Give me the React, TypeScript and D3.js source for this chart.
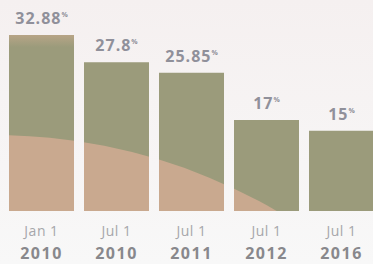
import React, { useRef, useEffect } from 'react';
import * as d3 from 'd3';

const categories = ['a', 'b', 'c', 'd', 'e'];
const dateLabels = ['Jan 1', 'Jul 1', 'Jul 1', 'Jul 1', 'Jul 1'];
const yearLabels = ['2010', '2010', '2011', '2012', '2016'];
const rates = [32.88, 27.8, 25.85, 17, 15];
const valueLabels = ['32.88', '27.8', '25.85', '17', '15'];

const width = 373;
const height = 264;

const App = () => {
  const svgRef = useRef(null);

  useEffect(() => {
    if (!svgRef.current) return;
    const svg = d3.select(svgRef.current);
    svg.selectAll('*').remove();

    const x = d3.scaleBand()
      .domain(categories)
      .range([9, 374])
      .paddingInner(10 / 75)
      .paddingOuter(0);

    const y = d3.scaleLinear()
      .domain([0, 32.88])
      .range([211, 35]);

    const defs = svg.append('defs');

    // background, slightly pink at the top
    const bg = defs.append('linearGradient')
      .attr('id', 'bg')
      .attr('x1', 0).attr('y1', 0).attr('x2', 0).attr('y2', 1);
    bg.append('stop').attr('offset', '0%').attr('stop-color', '#f5f0f0');
    bg.append('stop').attr('offset', '100%').attr('stop-color', '#f8f8f8');

    const topBand = defs.append('linearGradient')
      .attr('id', 'topband')
      .attr('x1', 0).attr('y1', 0).attr('x2', 0).attr('y2', 1);
    topBand.append('stop').attr('offset', '0%').attr('stop-color', '#c4a98c').attr('stop-opacity', 0.7);
    topBand.append('stop').attr('offset', '100%').attr('stop-color', '#c4a98c').attr('stop-opacity', 0);

    svg.append('rect')
      .attr('width', width)
      .attr('height', height)
      .attr('fill', 'url(#bg)');

    // bars used as a clip for the photo-like fill
    const clip = defs.append('clipPath').attr('id', 'bars');
    clip.selectAll('rect')
      .data(rates)
      .enter()
      .append('rect')
      .attr('x', (d, i) => x(categories[i]))
      .attr('y', d => y(d))
      .attr('width', x.bandwidth())
      .attr('height', d => y(0) - y(d));

    const fill = svg.append('g').attr('clip-path', 'url(#bars)');
    fill.append('rect')
      .attr('width', width)
      .attr('height', height)
      .attr('fill', '#9b9b7b');
    fill.append('rect')
      .attr('x', 0)
      .attr('y', y(32.88))
      .attr('width', width)
      .attr('height', 12)
      .attr('fill', 'url(#topband)');
    fill.append('circle')
      .attr('cx', -5)
      .attr('cy', 695)
      .attr('r', 560)
      .attr('fill', '#c9a98f');

    // value labels
    const val = svg.append('g')
      .selectAll('text')
      .data(rates)
      .enter()
      .append('text')
      .attr('x', (d, i) => x(categories[i]) + x.bandwidth() / 2)
      .attr('y', d => y(d) - 11)
      .attr('text-anchor', 'middle')
      .attr('fill', '#90909a')
      .style('font-family', '"Open Sans", sans-serif')
      .style('font-weight', 700)
      .style('font-size', '16px')
      .style('letter-spacing', '1px')
      .text((d, i) => valueLabels[i]);
    val.append('tspan')
      .attr('dy', -7)
      .style('font-size', '7px')
      .style('letter-spacing', '0px')
      .text('%');

    // category labels
    const cats = svg.append('g')
      .selectAll('g')
      .data(categories)
      .enter()
      .append('g')
      .attr('transform', d => `translate(${x(d) + x.bandwidth() / 2}, 0)`);

    cats.append('text')
      .attr('y', 236)
      .attr('text-anchor', 'middle')
      .attr('fill', '#a6a6aa')
      .style('font-family', '"Open Sans", sans-serif')
      .style('font-size', '14px')
      .style('letter-spacing', '0.5px')
      .text((d, i) => dateLabels[i]);

    cats.append('text')
      .attr('y', 259)
      .attr('text-anchor', 'middle')
      .attr('fill', '#88888c')
      .style('font-family', '"Open Sans", sans-serif')
      .style('font-weight', 700)
      .style('font-size', '16px')
      .style('letter-spacing', '1.5px')
      .text((d, i) => yearLabels[i]);
  }, []);

  return (
    <svg
      ref={svgRef}
      width={width}
      height={height}
      style={{ position: 'fixed', left: 0, top: 0 }}
    />
  );
};

export default App;
